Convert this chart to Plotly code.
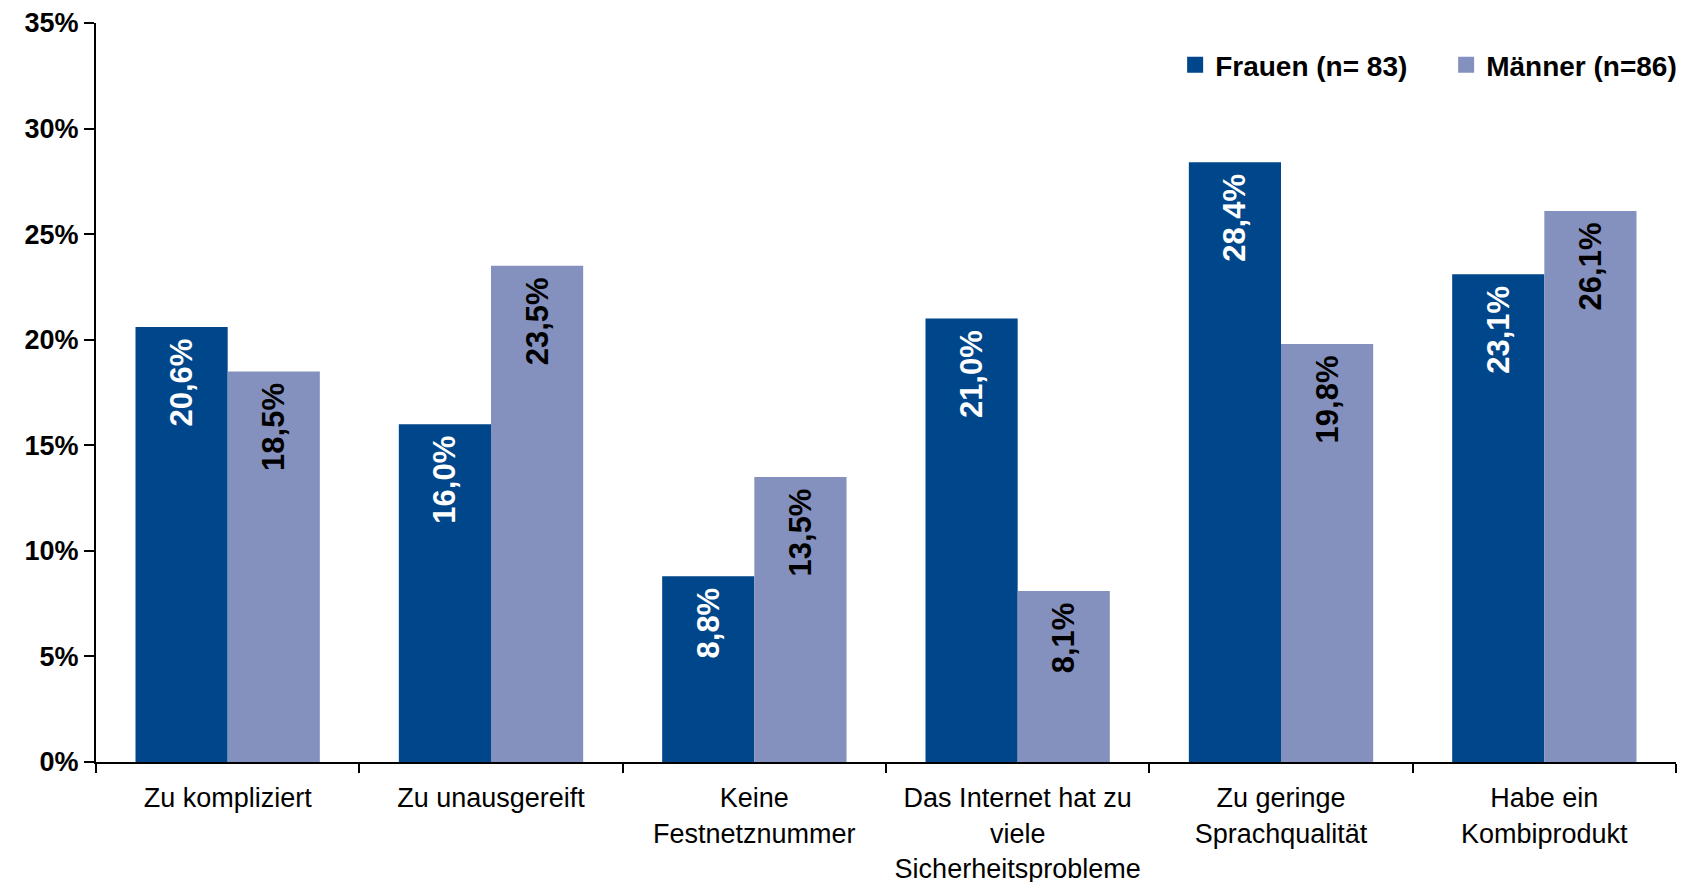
import plotly.graph_objects as go

categories = [
    "Zu kompliziert",
    "Zu unausgereift",
    "Keine<br>Festnetznummer",
    "Das Internet hat zu<br>viele<br>Sicherheitsprobleme",
    "Zu geringe<br>Sprachqualität",
    "Habe ein<br>Kombiprodukt",
]
frauen = [20.6, 16.0, 8.8, 21.0, 28.4, 23.1]
maenner = [18.5, 23.5, 13.5, 8.1, 19.8, 26.1]
series_names = ["Frauen (n= 83)", "Männer (n=86)"]
y_ticks = [0, 5, 10, 15, 20, 25, 30, 35]
y_ticklabels = ["0%", "5%", "10%", "15%", "20%", "25%", "30%", "35%"]

C_F = "#00468A"
C_M = "#8491BE"
FONT = "Liberation Sans, Arial, sans-serif"


def fmt(v):
    return f"{v:.1f}".replace(".", ",") + "%\u00a0"


fig = go.Figure()
for name, vals, col, tcol in [
    (series_names[0], frauen, C_F, "white"),
    (series_names[1], maenner, C_M, "black"),
]:
    fig.add_trace(go.Bar(
        x=categories, y=vals, name=name, marker=dict(color=col, line=dict(width=0)),
        text=[fmt(v) for v in vals], textposition="inside", textangle=-90,
        insidetextanchor="end",
        insidetextfont=dict(family=FONT, size=31, color=tcol, weight="bold"),
        showlegend=False, hoverinfo="skip",
    ))
    # legend entry with larger square marker
    fig.add_trace(go.Scatter(
        x=[None], y=[None], mode="markers", name=name,
        marker=dict(symbol="square", size=19, color=col),
        showlegend=True,
    ))

# page body has an 8px default margin, so the plot area is offset accordingly
fig.update_layout(
    width=1693, height=882,
    margin=dict(l=88, r=25, t=15, b=128, autoexpand=False),
    paper_bgcolor="white", plot_bgcolor="white",
    barmode="group", bargap=0.30, bargroupgap=0,
    font=dict(family=FONT, size=27, color="black"),
    legend=dict(
        orientation="h", x=0.683, xanchor="left", y=0.943, yanchor="middle",
        font=dict(family=FONT, size=28, color="black", weight="bold"),
        bgcolor="rgba(0,0,0,0)", itemwidth=30, entrywidth=226,
    ),
    showlegend=True,
)
fig.update_xaxes(
    type="category", showline=True, linecolor="black", linewidth=2,
    ticks="outside", ticklen=9, tickwidth=2, tickcolor="black", tickson="boundaries",
    showgrid=False, zeroline=False, automargin=False, ticklabelstandoff=11,
    tickfont=dict(family=FONT, size=27, color="black"),
)
fig.update_yaxes(
    range=[0, 35], tickmode="array", tickvals=y_ticks, ticktext=y_ticklabels,
    showline=True, linecolor="black", linewidth=2,
    ticks="outside", ticklen=10, tickwidth=2, tickcolor="black",
    showgrid=False, zeroline=False, automargin=False,
    tickfont=dict(family=FONT, size=27, color="black", weight="bold"),
)

fig.write_html("out.html")
